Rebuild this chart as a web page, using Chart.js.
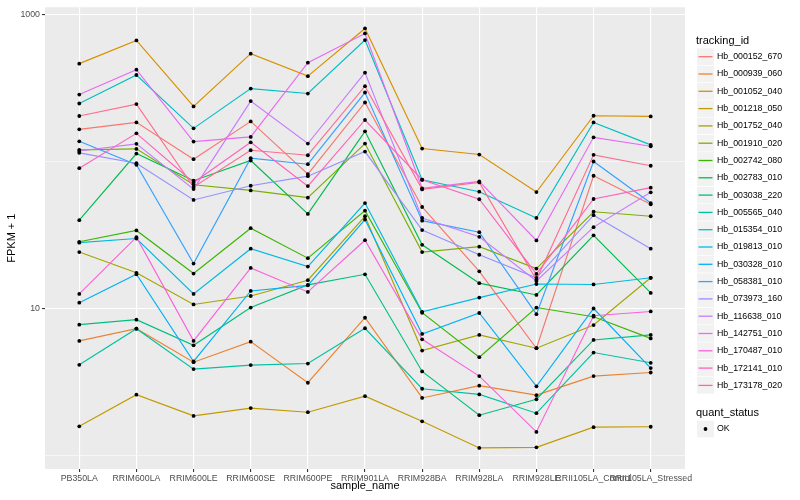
<!DOCTYPE html>
<html>
<head>
<meta charset="utf-8">
<script src="https://cdn.jsdelivr.net/npm/chart.js@4"></script>
<style>
    html, body { margin: 0; padding: 0; background: #ffffff; }
    #wrap { width: 800px; height: 500px; position: relative; }
</style>
</head>
<body>
<div id="wrap"><canvas id="chart" width="800" height="500"></canvas></div>
<script>
// categories on the x axis
const samples = ['PB350LA', 'RRIM600LA', 'RRIM600LE', 'RRIM600SE', 'RRIM600PE', 'RRIM901LA',
    'RRIM928BA', 'RRIM928LA', 'RRIM928LE', 'RRII105LA_Control', 'RRII105LA_Stressed'];

// FPKM + 1, one array per tracking_id, in sample order
const hb_000152_670 = [164.7, 183.7, 103.2, 186.6, 81.7, 250.9, 48.8, 17.8, 5.34, 79.6, 50.9];
const hb_000939_060 = [5.99, 7.25, 4.29, 5.92, 3.11, 8.61, 2.45, 2.97, 2.56, 3.45, 3.65];
const hb_001052_040 = [461, 663, 236, 539, 379, 800, 121.9, 111, 61.7, 203.9, 201.7];
const hb_001218_050 = [1.57, 2.58, 1.85, 2.09, 1.96, 2.52, 1.70, 1.12, 1.13, 1.55, 1.56];
const hb_001752_040 = [24.1, 17.4, 10.6, 12.1, 15.5, 42.2, 5.15, 6.58, 5.34, 7.68, 16.1];
const hb_001910_020 = [119.5, 121.3, 69.2, 63.3, 56.5, 131.8, 24.1, 26.2, 18.6, 45.3, 42.2];
const hb_002742_080 = [28.3, 33.8, 17.2, 35.0, 21.9, 46.1, 9.31, 4.64, 10.1, 8.75, 6.23];
const hb_002783_010 = [39.7, 112.7, 73.7, 101.1, 43.8, 159.6, 27.0, 14.8, 12.3, 31.3, 12.7];
const hb_003038_220 = [7.72, 8.35, 5.59, 10.1, 14.4, 17.0, 3.71, 1.87, 2.40, 6.08, 6.58];
const hb_005565_040 = [4.12, 7.25, 3.85, 4.10, 4.20, 7.30, 2.83, 2.59, 1.93, 4.99, 4.25];
const hb_015354_010 = [247, 386, 167.3, 312, 288.7, 666.8, 74.8, 62, 41.1, 183.7, 129.1];
const hb_019813_010 = [27.9, 29.8, 12.5, 25.4, 19.2, 51.9, 9.45, 11.8, 14.6, 14.5, 16.1];
const hb_030328_010 = [10.9, 17.0, 4.34, 13.1, 14.3, 40.1, 6.68, 9.27, 2.94, 9.95, 3.91];
const hb_058381_010 = [136.6, 94.5, 20.1, 104.8, 95.4, 293.3, 39.4, 32.9, 9.1, 99.5, 51.9];
const hb_073973_160 = [114, 96.9, 54.5, 68.1, 79.1, 116.3, 34.0, 23.1, 16.1, 42.9, 25.4];
const hb_116638_010 = [117.3, 131.2, 64.6, 256.4, 131.8, 400.5, 41.1, 30.6, 15.3, 35.6, 61.4];
const hb_142751_010 = [284, 419.6, 136, 146.3, 468, 740, 65.4, 72.9, 28.9, 145.4, 126.4];
const hb_170487_010 = [12.5, 30.4, 5.99, 18.8, 12.9, 29.0, 6.14, 3.45, 1.44, 8.88, 9.50];
const hb_172141_010 = [89.7, 154.7, 71.7, 134.5, 67.7, 190.7, 74.8, 55.1, 17.1, 55.3, 66.1];
const hb_173178_020 = [203, 244.7, 66.7, 118.7, 109.8, 323.9, 64.3, 71.7, 15.6, 110.5, 93.1];

const trackingIds = ['Hb_000152_670', 'Hb_000939_060', 'Hb_001052_040', 'Hb_001218_050', 'Hb_001752_040',
    'Hb_001910_020', 'Hb_002742_080', 'Hb_002783_010', 'Hb_003038_220', 'Hb_005565_040',
    'Hb_015354_010', 'Hb_019813_010', 'Hb_030328_010', 'Hb_058381_010', 'Hb_073973_160',
    'Hb_116638_010', 'Hb_142751_010', 'Hb_170487_010', 'Hb_172141_010', 'Hb_173178_020'];

const seriesValues = [hb_000152_670, hb_000939_060, hb_001052_040, hb_001218_050, hb_001752_040,
    hb_001910_020, hb_002742_080, hb_002783_010, hb_003038_220, hb_005565_040,
    hb_015354_010, hb_019813_010, hb_030328_010, hb_058381_010, hb_073973_160,
    hb_116638_010, hb_142751_010, hb_170487_010, hb_172141_010, hb_173178_020];

const quantStatus = ['OK'];
const yTicks = [1, 10, 100, 1000];
const yLabelled = [10, 1000];

// ggplot default hue palette for 20 groups
const palette = ['#F8766D', '#EA8331', '#D89000', '#C09B00', '#A3A500', '#7CAE00', '#39B600', '#00BB4E',
    '#00BF7D', '#00C1A3', '#00BFC4', '#00BAE0', '#00B0F6', '#35A2FF', '#9590FF', '#C77CFF',
    '#E76BF3', '#FA62DB', '#FF62BC', '#FF6C91'];

const FONT = '"Liberation Sans", Arial, Helvetica, sans-serif';

const lineSets = seriesValues.map((vals, i) => ({
    label: trackingIds[i],
    data: vals.map((v, j) => ({ x: j, y: v })),
    borderColor: palette[i],
    borderWidth: 1.15,
    pointRadius: 0,
    tension: 0,
    fill: false,
    order: seriesValues.length - i + 1
}));

// all points on top of every line, like geom_point after geom_line
const pointSet = {
    label: 'quant_status',
    data: seriesValues.flatMap(vals => vals.map((v, j) => ({ x: j, y: v }))),
    showLine: false,
    pointRadius: 1.9,
    pointStyle: 'circle',
    pointBackgroundColor: '#000000',
    pointBorderWidth: 0,
    borderColor: '#000000',
    order: 0
};

const panelBg = {
    id: 'panelBg',
    beforeDraw(chart) {
        const a = chart.chartArea;
        const ctx = chart.ctx;
        ctx.save();
        ctx.fillStyle = '#EBEBEB';
        ctx.fillRect(a.left, a.top, a.right - a.left, a.bottom - a.top);
        ctx.restore();
    }
};

const ggLegend = {
    id: 'ggLegend',
    afterDraw(chart) {
        const ctx = chart.ctx;
        ctx.save();
        ctx.textBaseline = 'middle';
        ctx.textAlign = 'left';
        ctx.fillStyle = '#000';
        ctx.font = '11px ' + FONT;
        ctx.fillText('tracking_id', 696, 41);
        trackingIds.forEach((id, i) => {
            const y = 56.7 + i * 17.3;
            ctx.fillStyle = '#F2F2F2';
            ctx.fillRect(697, y - 8.3, 17, 16.6);
            ctx.strokeStyle = palette[i];
            ctx.lineWidth = 1.3;
            ctx.beginPath();
            ctx.moveTo(698.5, y);
            ctx.lineTo(712.5, y);
            ctx.stroke();
            ctx.fillStyle = '#000';
            ctx.font = '8.8px ' + FONT;
            ctx.fillText(id, 717, y);
        });
        ctx.font = '11px ' + FONT;
        ctx.fillText('quant_status', 696, 413);
        quantStatus.forEach((s, i) => {
            const y = 429 + i * 17.3;
            ctx.fillStyle = '#F2F2F2';
            ctx.fillRect(697, y - 8.3, 17, 16.6);
            ctx.fillStyle = '#000';
            ctx.beginPath();
            ctx.arc(705.5, y, 1.9, 0, Math.PI * 2);
            ctx.fill();
            ctx.font = '8.8px ' + FONT;
            ctx.fillText(s, 717, y);
        });
        ctx.restore();
    }
};

const isMajor = v => yLabelled.includes(v);

new Chart(document.getElementById('chart').getContext('2d'), {
    type: 'line',
    data: { datasets: [...lineSets, pointSet] },
    options: {
        responsive: false,
        animation: false,
        layout: { padding: { top: 5, right: 115, left: 0, bottom: 0 } },
        plugins: { legend: { display: false }, tooltip: { enabled: false } },
        scales: {
            x: {
                type: 'linear',
                min: -0.6,
                max: 10.6,
                afterBuildTicks(scale) { scale.ticks = samples.map((_, i) => ({ value: i })); },
                afterFit(scale) { scale.height = 31; },
                ticks: {
                    autoSkip: false,
                    maxRotation: 0,
                    padding: 1,
                    color: '#4D4D4D',
                    font: { family: FONT, size: 8.8 },
                    callback: v => samples[v]
                },
                grid: { color: '#FFFFFF', lineWidth: 1.1, tickColor: '#333333', tickLength: 3 },
                border: { display: false },
                title: { display: true, text: 'sample_name', color: '#000', font: { family: FONT, size: 11 }, padding: { top: 0, bottom: 7 } }
            },
            y: {
                type: 'logarithmic',
                min: 0.805,
                max: 1115,
                afterBuildTicks(scale) { scale.ticks = yTicks.map(v => ({ value: v })); },
                afterFit(scale) { scale.width = 45; },
                ticks: {
                    padding: 2,
                    color: '#4D4D4D',
                    font: { family: FONT, size: 8.8 },
                    callback: v => isMajor(v) ? String(v) : ''
                },
                grid: {
                    color: '#FFFFFF',
                    lineWidth: c => (c.tick && isMajor(c.tick.value)) ? 1.1 : 0.55,
                    tickColor: c => (c.tick && isMajor(c.tick.value)) ? '#333333' : 'rgba(0,0,0,0)',
                    tickLength: 3
                },
                border: { display: false },
                title: { display: true, text: 'FPKM + 1', color: '#000', font: { family: FONT, size: 11 }, padding: { top: 5, bottom: 2 } }
            }
        }
    },
    plugins: [panelBg, ggLegend]
});
</script>
</body>
</html>
